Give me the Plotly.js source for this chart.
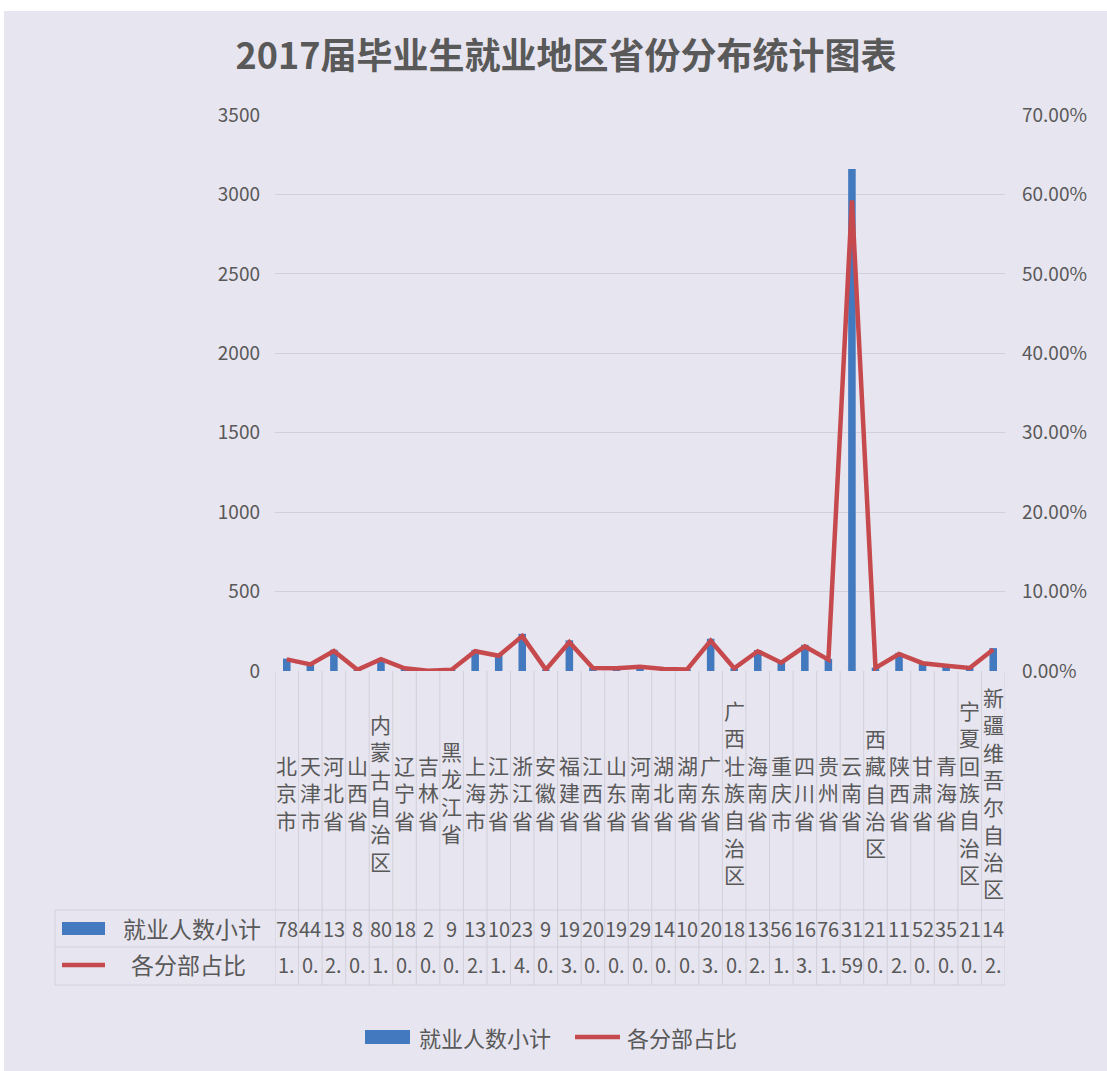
<!DOCTYPE html>
<html>
<head>
<meta charset="utf-8">
<script src="https://cdn.plot.ly/plotly-3.0.1.min.js"></script>
<style>
  html, body { margin: 0; padding: 0; background: #ffffff; }
  #chart { width: 1107px; height: 1071px; }
</style>
</head>
<body>
<div id="chart"></div>
<script>
// 2017 graduates: employment by province
const provinces = ['北京市','天津市','河北省','山西省','内蒙古自治区','辽宁省','吉林省','黑龙江省',
  '上海市','江苏省','浙江省','安徽省','福建省','江西省','山东省','河南省','湖北省','湖南省',
  '广东省','广西壮族自治区','海南省','重庆市','四川省','贵州省','云南省','西藏自治区','陕西省',
  '甘肃省','青海省','宁夏回族自治区','新疆维吾尔自治区'];

// headcount per province
const employed = [78, 44, 134, 8, 80, 18, 2, 9,
  133, 102, 234, 9, 193, 20, 19, 29, 14, 10,
  203, 18, 132, 56, 165, 76, 3160, 21, 114,
  52, 35, 21, 144];

// share of all graduates, in percent
const sharePct = [1.46, 0.83, 2.51, 0.15, 1.50, 0.34, 0.04, 0.17,
  2.49, 1.91, 4.39, 0.17, 3.62, 0.38, 0.36, 0.54, 0.26, 0.19,
  3.81, 0.34, 2.48, 1.05, 3.09, 1.43, 59.25, 0.39, 2.14,
  0.98, 0.66, 0.39, 2.70];

const countTicks = [0, 500, 1000, 1500, 2000, 2500, 3000, 3500];
const shareTicks = [0, 10, 20, 30, 40, 50, 60, 70];

const seriesCount = '就业人数小计';
const seriesShare = '各分部占比';
const chartTitle = '2017届毕业生就业地区省份分布统计图表';

// ---- page geometry (px) ----
const W = 1107, H = 1071;
const plotL = 275, plotR = 1005, plotT = 115, plotB = 671;
const plotW = plotR - plotL, plotH = plotB - plotT;
const px = x => (x - plotL) / plotW;   // pixel x -> paper x
const py = y => (plotB - y) / plotH;   // pixel y -> paper y

const FONT = '"Noto Sans CJK SC", "Noto Sans", sans-serif';
const GREY = '#595959';
const BLUE = '#4279bf';
const RED = '#c64a4d';
const BG = '#e7e5ef';
const GRID = '#d2d0da';

// cells in the data table show only what fits on one line
const measureCtx = document.createElement('canvas').getContext('2d');
function fitCell(str, width, size) {
  measureCtx.font = size + 'px ' + FONT;
  let out = '';
  for (const ch of str) {
    if (measureCtx.measureText(out + ch).width > width) break;
    out += ch;
  }
  return out;
}

const n = provinces.length;
const colW = plotW / n;

const traces = [
  {
    type: 'bar',
    name: seriesCount,
    x: provinces,
    y: employed,
    width: 0.32,
    marker: { color: BLUE },
    yaxis: 'y',
    hoverinfo: 'x+y'
  },
  {
    type: 'scatter',
    mode: 'lines',
    name: seriesShare,
    x: provinces,
    y: sharePct,
    yaxis: 'y2',
    line: { color: RED, width: 4.5 },
    hoverinfo: 'x+y'
  }
];

const annotations = [];
const shapes = [];

// white frame strip along the top and left edges
shapes.push({ type: 'rect', xref: 'paper', yref: 'paper', layer: 'below',
  x0: px(-10), x1: px(W + 10), y0: py(-10), y1: py(11),
  fillcolor: '#ffffff', line: { width: 0 } });
shapes.push({ type: 'rect', xref: 'paper', yref: 'paper', layer: 'below',
  x0: px(-10), x1: px(4), y0: py(-10), y1: py(H + 10),
  fillcolor: '#ffffff', line: { width: 0 } });

// category labels, one character per line
provinces.forEach((name, i) => {
  annotations.push({
    xref: 'x', yref: 'paper', x: i, y: py(792),
    text: Array.from(name).join('<br>'),
    showarrow: false, xanchor: 'center', yanchor: 'middle',
    font: { family: FONT, size: 21, color: GREY }
  });
});

// data table rows
const rowCountY = 928, rowShareY = 964;
provinces.forEach((name, i) => {
  annotations.push({
    xref: 'x', yref: 'paper', x: i, y: py(rowCountY),
    text: fitCell(String(employed[i]), colW, 20),
    showarrow: false, xanchor: 'center', yanchor: 'middle',
    font: { family: FONT, size: 20, color: GREY }
  });
  annotations.push({
    xref: 'x', yref: 'paper', x: i, y: py(rowShareY),
    text: fitCell(sharePct[i].toFixed(2) + '%', colW, 20),
    showarrow: false, xanchor: 'center', yanchor: 'middle',
    font: { family: FONT, size: 20, color: GREY }
  });
});

// table grid: column separators
for (let k = 0; k <= n; k++) {
  shapes.push({ type: 'line', xref: 'x', yref: 'paper',
    x0: k - 0.5, x1: k - 0.5, y0: 0, y1: py(985),
    line: { color: GRID, width: 1 } });
}
// table grid: row lines and left edge
[910, 947, 985].forEach(y => {
  shapes.push({ type: 'line', xref: 'paper', yref: 'paper',
    x0: px(55), x1: 1, y0: py(y), y1: py(y),
    line: { color: GRID, width: 1 } });
});
shapes.push({ type: 'line', xref: 'paper', yref: 'paper',
  x0: px(55), x1: px(55), y0: py(910), y1: py(985),
  line: { color: GRID, width: 1 } });

// table row headers with legend keys
shapes.push({ type: 'rect', xref: 'paper', yref: 'paper',
  x0: px(62), x1: px(105), y0: py(935), y1: py(922),
  fillcolor: BLUE, line: { width: 0 } });
shapes.push({ type: 'line', xref: 'paper', yref: 'paper',
  x0: px(62), x1: px(105), y0: py(965), y1: py(965),
  line: { color: RED, width: 4.5 } });
annotations.push({ xref: 'paper', yref: 'paper', x: px(192), y: py(rowCountY),
  text: seriesCount, showarrow: false, xanchor: 'center', yanchor: 'middle',
  font: { family: FONT, size: 23, color: GREY } });
annotations.push({ xref: 'paper', yref: 'paper', x: px(188), y: py(rowShareY),
  text: seriesShare, showarrow: false, xanchor: 'center', yanchor: 'middle',
  font: { family: FONT, size: 23, color: GREY } });

// legend along the bottom
const legendY = 1037;
shapes.push({ type: 'rect', xref: 'paper', yref: 'paper',
  x0: px(365), x1: px(410), y0: py(1044), y1: py(1030),
  fillcolor: BLUE, line: { width: 0 } });
annotations.push({ xref: 'paper', yref: 'paper', x: px(417), y: py(legendY),
  text: seriesCount, showarrow: false, xanchor: 'left', yanchor: 'middle',
  font: { family: FONT, size: 22, color: GREY } });
shapes.push({ type: 'line', xref: 'paper', yref: 'paper',
  x0: px(575), x1: px(620), y0: py(legendY), y1: py(legendY),
  line: { color: RED, width: 4.5 } });
annotations.push({ xref: 'paper', yref: 'paper', x: px(625), y: py(legendY),
  text: seriesShare, showarrow: false, xanchor: 'left', yanchor: 'middle',
  font: { family: FONT, size: 22, color: GREY } });

const layout = {
  width: W, height: H,
  margin: { l: plotL, r: W - plotR, t: plotT, b: H - plotB, pad: 0 },
  paper_bgcolor: BG,
  plot_bgcolor: 'rgba(0,0,0,0)',
  showlegend: false,
  title: {
    text: chartTitle,
    xref: 'container', yref: 'container',
    x: 566 / W, y: 1 - 56 / H,
    xanchor: 'center', yanchor: 'middle',
    font: { family: FONT, size: 36, color: GREY, weight: 'bold' }
  },
  xaxis: {
    type: 'category',
    range: [-0.5, n - 0.5],
    showticklabels: false,
    showgrid: false, zeroline: false, showline: false, ticks: ''
  },
  yaxis: {
    range: [0, 3500],
    tickvals: countTicks,
    ticktext: countTicks.map(String),
    showgrid: true, gridcolor: GRID, gridwidth: 1,
    zeroline: false, showline: false, ticks: '',
    ticklabelstandoff: 14,
    tickfont: { family: FONT, size: 19, color: GREY }
  },
  yaxis2: {
    overlaying: 'y', side: 'right',
    range: [0, 70],
    tickvals: shareTicks,
    ticktext: shareTicks.map(v => v.toFixed(2) + '%'),
    showgrid: false, zeroline: false, showline: false, ticks: '',
    ticklabelstandoff: 16,
    tickfont: { family: FONT, size: 19, color: GREY }
  },
  shapes: shapes,
  annotations: annotations
};

Plotly.newPlot('chart', traces, layout, { displayModeBar: false, staticPlot: true });
</script>
</body>
</html>
